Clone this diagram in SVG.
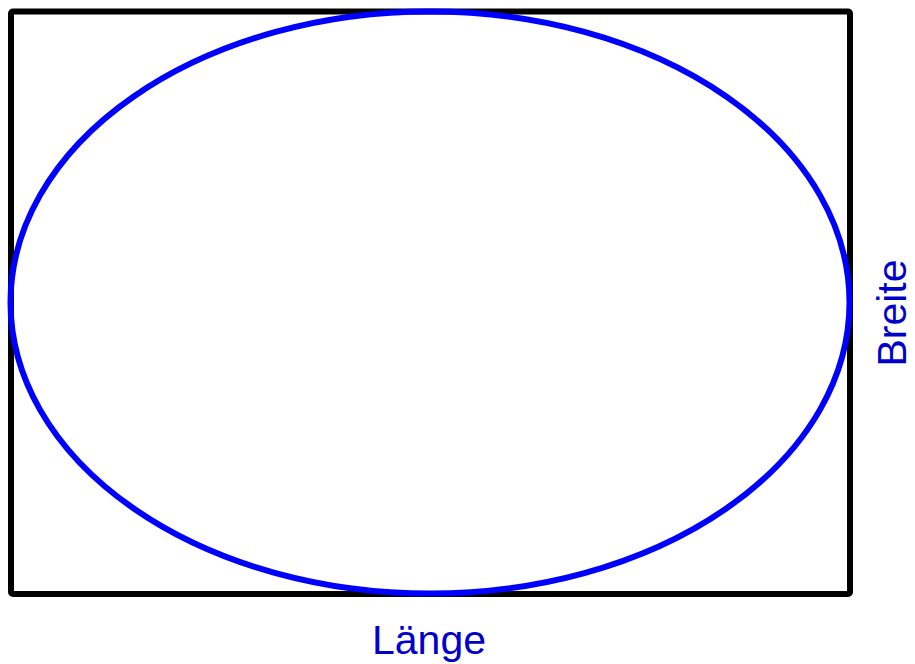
<svg xmlns="http://www.w3.org/2000/svg" width="915" height="664" viewBox="0 0 915 664">
<style>
.frame{fill:none;stroke:#000;stroke-width:6;stroke-linejoin:round}
.ell{fill:none;stroke:#0000ff;stroke-width:6}
.lbl{font-family:"Liberation Sans",Arial,sans-serif;font-size:41px;fill:#0000cc;text-anchor:middle}
</style>
<rect width="915" height="664" fill="#fff"/>
<g id="rectangle"><rect class="frame" x="11" y="11.5" width="839" height="582.5" rx="2"/></g>
<g id="ellipse"><ellipse class="ell" cx="430" cy="302.5" rx="419.5" ry="291"/></g>
<g id="label-laenge"><text class="lbl" x="429" y="654">Länge</text></g>
<g id="label-breite"><text class="lbl" transform="translate(906,313) rotate(-90)">Breite</text></g>
</svg>
